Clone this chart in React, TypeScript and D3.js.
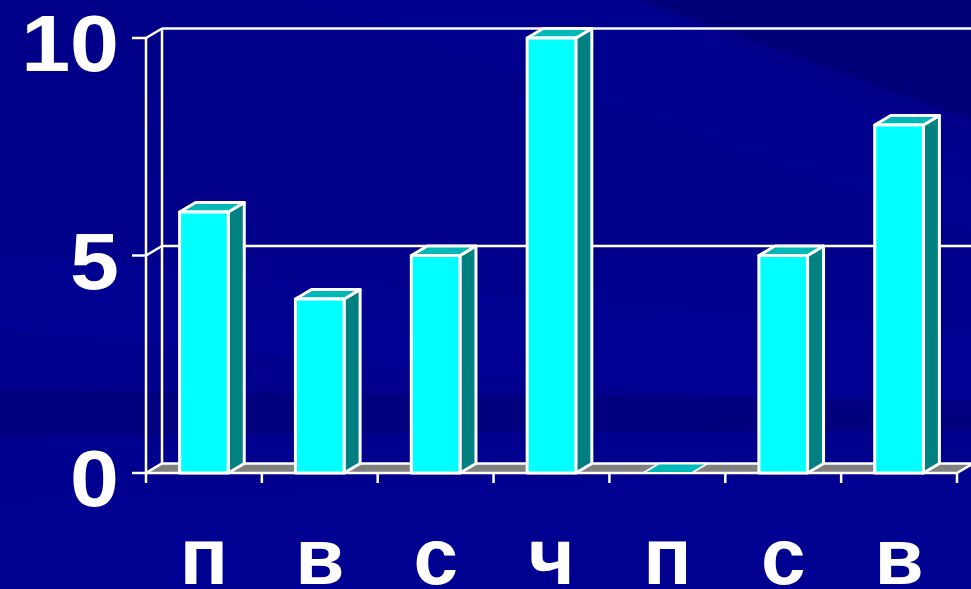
import React from "react";
import * as d3 from "d3";

const categories = ["п", "в", "с", "ч", "п", "с", "в"];
const values = [6, 4, 5, 10, 0, 5, 8];
const yTicks = [0, 5, 10];

const W = 971;
const H = 589;
const X0 = 146;
const X1 = 957;
const Y0 = 473;
const Y10 = 38;
const DX = 16;
const DY = 9.5;
const BDX = 16;
const BDY = 9.5;

export default function App() {
  const x = d3.scaleBand<number>().domain(d3.range(categories.length)).range([X0, X1]).paddingInner(0.58).paddingOuter(0.29);
  const y = d3.scaleLinear().domain([0, 10]).range([Y0, Y10]);
  const font = "'Liberation Sans', Arial, sans-serif";
  const step = (X1 - X0) / categories.length;

  const pts = (a: [number, number][]) => a.map((p) => p.join(",")).join(" ");

  return (
    <div style={{ position: "fixed", left: 0, top: 0, width: W, height: H, overflow: "hidden" }}>
      <svg width={W} height={H} style={{ display: "block" }}>
        <defs>
          <linearGradient id="bg" x1="0" y1="0" x2="0" y2="1">
            <stop offset="0" stopColor="#000088" />
            <stop offset="0.5" stopColor="#00008c" />
            <stop offset="1" stopColor="#000090" />
          </linearGradient>
        </defs>
        <rect width={W} height={H} fill="url(#bg)" />
        {/* diagonal streaks */}
        <polygon points="640,0 971,0 971,120" fill="#00006e" opacity={0.6} />
        <polygon points="300,0 640,0 971,160 971,230" fill="#0000a0" opacity={0.3} />
        <polygon points="0,255 971,330 971,420 0,330" fill="#0000a0" opacity={0.3} />
        <polygon points="0,390 971,400 971,430 0,435" fill="#000070" opacity={0.5} />
        <polygon points="0,500 971,470 971,589 0,589" fill="#000094" opacity={0.4} />

        {/* back wall gridlines */}
        {yTicks.map((t) => (
          <g key={"g" + t} stroke="#ffffff" strokeWidth={2.5} fill="none">
            <line x1={X0 - 14} x2={X0} y1={y(t)} y2={y(t)} />
            <line x1={X0} y1={y(t)} x2={X0 + DX} y2={y(t) - DY} />
            {t !== 0 && <line x1={X0 + DX} x2={W + 10} y1={y(t) - DY} y2={y(t) - DY} />}
          </g>
        ))}
        {/* walls */}
        <line x1={X0} x2={X0} y1={Y10} y2={Y0} stroke="#fff" strokeWidth={2.5} />
        <line x1={X0 + DX} x2={X0 + DX} y1={Y10 - DY} y2={Y0 - DY} stroke="#fff" strokeWidth={2.5} />
        {/* floor */}
        <polygon
          points={pts([[X0, Y0], [X1, Y0], [X1 + DX, Y0 - DY], [X0 + DX, Y0 - DY]])}
          fill="#808080"
          stroke="#ffffff"
          strokeWidth={2.5}
          strokeLinejoin="round"
        />
        {/* x ticks */}
        {d3.range(categories.length + 1).map((i) => (
          <line key={"t" + i} x1={X0 + i * step} x2={X0 + i * step} y1={Y0} y2={Y0 + 10} stroke="#fff" strokeWidth={2.5} />
        ))}

        {/* bars */}
        {values.map((v, i) => {
          const bx0 = x(i)!;
          const bx1 = bx0 + x.bandwidth();
          const top = y(v);
          return (
            <g key={"b" + i} stroke="#ffffff" strokeWidth={3} strokeLinejoin="round">
              {v > 0 && (
                <polygon points={pts([[bx1, top], [bx1 + BDX, top - BDY], [bx1 + BDX, Y0 - BDY], [bx1, Y0]])} fill="#008080" />
              )}
              <polygon points={pts([[bx0, top], [bx1, top], [bx1 + BDX, top - BDY], [bx0 + BDX, top - BDY]])} fill="#00b8b8" strokeWidth={v > 0 ? 3 : 2} />
              {v > 0 && <rect x={bx0} y={top} width={bx1 - bx0} height={Y0 - top} fill="#00ffff" />}
            </g>
          );
        })}

        {/* y labels */}
        {yTicks.map((t) => (
          <text
            key={"yl" + t}
            transform={`translate(119,${y(t) + 33}) scale(1.1,1)`}
            textAnchor="end"
            fill="#ffffff"
            fontFamily={font}
            fontWeight="bold"
            fontSize={80}
          >
            {t}
          </text>
        ))}
        {/* x labels */}
        {categories.map((c, i) => (
          <text key={"xl" + i} x={X0 + (i + 0.5) * step} y={584} textAnchor="middle" fill="#ffffff" fontFamily={font} fontWeight="bold" fontSize={80}>
            {c}
          </text>
        ))}
      </svg>
    </div>
  );
}
